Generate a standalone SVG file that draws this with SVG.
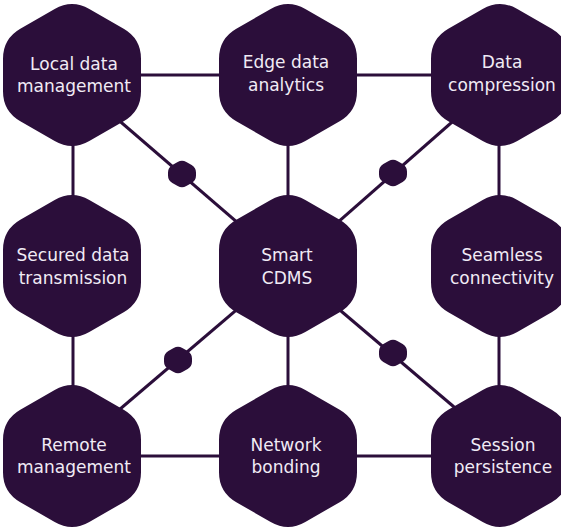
<svg xmlns="http://www.w3.org/2000/svg" xmlns:xlink="http://www.w3.org/1999/xlink" width="561" height="529" viewBox="0 0 561 529">
  <defs>
    <path id="hex" d="M -17.32,-66.01 Q 0,-76 17.32,-66.01 L 51.68,-46.19 Q 69,-36.2 69,-16.2 L 69,16.2 Q 69,36.2 51.68,46.19 L 17.32,66.01 Q 0,76 -17.32,66.01 L -51.68,46.19 Q -69,36.2 -69,16.2 L -69,-16.2 Q -69,-36.2 -51.68,-46.19 Z"/>
    <path id="dot" d="M -4.33,-12 Q 0,-14.5 4.33,-12 L 9.67,-8.92 Q 14,-6.42 14,-1.42 L 14,1.42 Q 14,6.42 9.67,8.92 L 4.33,12 Q 0,14.5 -4.33,12 L -9.67,8.92 Q -14,6.42 -14,1.42 L -14,-1.42 Q -14,-6.42 -9.67,-8.92 Z"/>
  </defs>
  <style>
    .hex { fill: #2b0e3a; }
    .conn line { stroke: #2b0e3a; stroke-width: 3; fill: none; }
    .lbl { fill: #f1ebf5; font-family: "DejaVu Sans", "Open Sans", sans-serif; font-size: 17px; text-anchor: middle; }
  </style>
  <rect width="561" height="529" fill="#ffffff"/>
  <g id="connectors" class="conn">
    <line x1="72" y1="75" x2="288" y2="75"/>
    <line x1="288" y1="75" x2="500" y2="75"/>
    <line x1="72" y1="456" x2="288" y2="456"/>
    <line x1="288" y1="456" x2="500" y2="456"/>
    <line x1="73" y1="75" x2="73" y2="266"/>
    <line x1="73" y1="266" x2="73" y2="456"/>
    <line x1="288" y1="75" x2="288" y2="266"/>
    <line x1="288" y1="266" x2="288" y2="456"/>
    <line x1="499" y1="75" x2="499" y2="266"/>
    <line x1="499" y1="266" x2="499" y2="456"/>
    <line x1="288" y1="266" x2="72" y2="80"/>
    <line x1="288" y1="266" x2="500" y2="80"/>
    <line x1="288" y1="266" x2="72" y2="450"/>
    <line x1="288" y1="266" x2="500" y2="446"/>
    <use xlink:href="#dot" href="#dot" class="hex" x="182" y="174"/>
    <use xlink:href="#dot" href="#dot" class="hex" x="393" y="173"/>
    <use xlink:href="#dot" href="#dot" class="hex" x="178" y="360"/>
    <use xlink:href="#dot" href="#dot" class="hex" x="393" y="353"/>
  </g>
  <g id="local-data-management">
    <use xlink:href="#hex" href="#hex" class="hex" x="72" y="75"/>
    <text class="lbl" x="74" y="70">Local data</text>
    <text class="lbl" x="74" y="92">management</text>
  </g>
  <g id="edge-data-analytics">
    <use xlink:href="#hex" href="#hex" class="hex" x="288" y="75"/>
    <text class="lbl" x="286" y="68">Edge data</text>
    <text class="lbl" x="286" y="91">analytics</text>
  </g>
  <g id="data-compression">
    <use xlink:href="#hex" href="#hex" class="hex" x="500" y="75"/>
    <text class="lbl" x="502" y="68">Data</text>
    <text class="lbl" x="502" y="91">compression</text>
  </g>
  <g id="secured-data-transmission">
    <use xlink:href="#hex" href="#hex" class="hex" x="72" y="266"/>
    <text class="lbl" x="73" y="261">Secured data</text>
    <text class="lbl" x="73" y="284">transmission</text>
  </g>
  <g id="smart-cdms">
    <use xlink:href="#hex" href="#hex" class="hex" x="288" y="266"/>
    <text class="lbl" x="287" y="261">Smart</text>
    <text class="lbl" x="287" y="284">CDMS</text>
  </g>
  <g id="seamless-connectivity">
    <use xlink:href="#hex" href="#hex" class="hex" x="500" y="266"/>
    <text class="lbl" x="502" y="261">Seamless</text>
    <text class="lbl" x="502" y="284">connectivity</text>
  </g>
  <g id="remote-management">
    <use xlink:href="#hex" href="#hex" class="hex" x="72" y="456"/>
    <text class="lbl" x="74" y="451">Remote</text>
    <text class="lbl" x="74" y="473">management</text>
  </g>
  <g id="network-bonding">
    <use xlink:href="#hex" href="#hex" class="hex" x="288" y="456"/>
    <text class="lbl" x="286" y="451">Network</text>
    <text class="lbl" x="286" y="473">bonding</text>
  </g>
  <g id="session-persistence">
    <use xlink:href="#hex" href="#hex" class="hex" x="500" y="456"/>
    <text class="lbl" x="503" y="451">Session</text>
    <text class="lbl" x="503" y="473">persistence</text>
  </g>
</svg>
